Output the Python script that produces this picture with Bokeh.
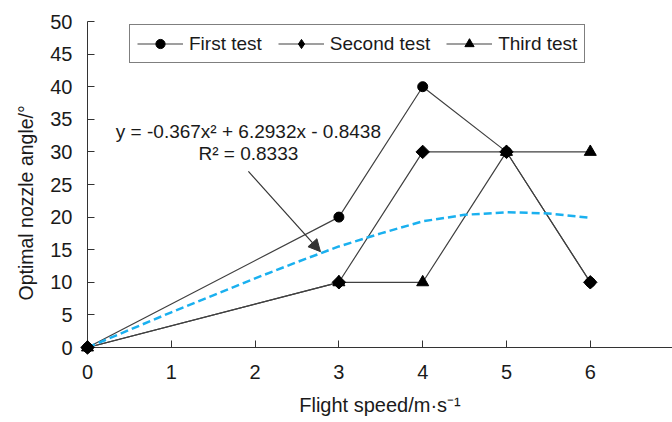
from bokeh.plotting import figure
from bokeh.models import ColumnDataSource, Legend, LegendItem, FixedTicker, Label, Arrow, NormalHead, Range1d, Title
from bokeh.embed import file_html
from bokeh.resources import INLINE
import math

# Data
speed = [0, 3, 4, 5, 6]
first_test = [0, 20, 40, 30, 10]
second_test = [0, 10, 30, 30, 10]
third_test = [0, 10, 10, 30, 30]

# Trend line
trend_x = [0, 0.5, 1, 1.5, 2, 2.5, 3, 3.5, 4, 4.5, 5, 5.5, 6]
trend_y = [0, 2.7, 5.4, 8.0, 10.6, 13.1, 15.5, 17.5, 19.35, 20.35, 20.75, 20.55, 19.9]

x_ticks = [0, 1, 2, 3, 4, 5, 6, 7]
y_ticks = [0, 5, 10, 15, 20, 25, 30, 35, 40, 45, 50]

x_title = "Flight speed/m·s⁻¹"
y_title = "Optimal nozzle angle/°"
eq_text = "y = -0.367x² + 6.2932x - 0.8438"
r2_text = "R² = 0.8333"

FONT = "Liberation Sans"
TXT = "#1a1a1a"
AX = "#333333"

p = figure(width=672, height=422, output_backend="svg", toolbar_location=None,
           x_range=Range1d(0, 6.981), y_range=Range1d(0, 50),
           min_border_left=87, min_border_right=0, min_border_top=21, min_border_bottom=75)
p.outline_line_color = None
p.xgrid.grid_line_color = None
p.ygrid.grid_line_color = None
p.background_fill_color = "white"

for ax in (p.xaxis[0], p.yaxis[0]):
    ax.axis_line_color = AX
    ax.major_tick_line_color = AX
    ax.major_tick_in = 7
    ax.major_tick_out = 0
    ax.minor_tick_line_color = None
    ax.major_label_text_font = FONT
    ax.major_label_text_font_size = "20px"
    ax.major_label_text_color = TXT

p.xaxis.ticker = FixedTicker(ticks=x_ticks)
p.yaxis.ticker = FixedTicker(ticks=y_ticks)
p.xaxis.major_label_standoff = 17
p.yaxis.major_label_standoff = 15

p.xaxis.axis_label = x_title
p.xaxis.axis_label_text_font = FONT
p.xaxis.axis_label_text_font_size = "20px"
p.xaxis.axis_label_text_font_style = "normal"
p.xaxis.axis_label_text_color = TXT
p.xaxis.axis_label_standoff = 12

# y title as a side title so it can sit a little below the frame centre, as in the reference
p.add_layout(Title(text=y_title, align="left", offset=47, standoff=22,
                   text_font=FONT, text_font_size="19.5px", text_font_style="normal",
                   text_color=TXT), "left")

src = ColumnDataSource(dict(x=speed, a=first_test, b=second_test, c=third_test))

LC = "#404040"
l1 = p.line("x", "a", source=src, line_color=LC, line_width=1.2)
l2 = p.line("x", "b", source=src, line_color=LC, line_width=1.2)
l3 = p.line("x", "c", source=src, line_color=LC, line_width=1.2)

m1 = p.scatter("x", "a", source=src, marker="circle", size=10, fill_color="black", line_color="black")
m2 = p.scatter("x", "b", source=src, marker="square", angle=math.pi / 4, size=9.5, fill_color="black", line_color="black")
m3 = p.scatter("x", "c", source=src, marker="triangle", size=12, fill_color="black", line_color="black")
for m in (m1, m2, m3):
    m.level = "overlay"

# legend-only diamond (legend glyphs ignore marker angle); its single point is NaN, so nothing is drawn in the plot
leg_src = ColumnDataSource(dict(x=[float("nan")], y=[float("nan")]))
m2_leg = p.scatter("x", "y", source=leg_src, marker="diamond", fill_color="black", line_color="black")

p.line(trend_x, trend_y, line_color="#1ab0ef", line_width=2.5, line_dash="8 4")

p.add_layout(Label(x=1.92, y=33.2, text=eq_text, text_align="center", text_baseline="middle",
                   text_font=FONT, text_font_size="19px", text_color=TXT))
p.add_layout(Label(x=1.92, y=29.8, text=r2_text, text_align="center", text_baseline="middle",
                   text_font=FONT, text_font_size="19px", text_color=TXT))

p.add_layout(Arrow(x_start=1.92, y_start=27.0, x_end=2.78, y_end=14.7,
                   line_color=AX, line_width=1.2,
                   end=NormalHead(size=12, fill_color=AX, line_color=AX)))

legend = Legend(items=[LegendItem(label="First test", renderers=[l1, m1]),
                       LegendItem(label="Second test", renderers=[l2, m2_leg]),
                       LegendItem(label="Third test", renderers=[l3, m3])],
                orientation="horizontal", location=(42, 284),
                glyph_width=46, glyph_height=23, label_standoff=6, spacing=16,
                padding=7, margin=0,
                label_text_font=FONT, label_text_font_size="19px", label_text_color=TXT,
                border_line_color="black", border_line_width=1,
                background_fill_color="white", background_fill_alpha=1)
p.add_layout(legend, "center")

open("out.html", "w").write(file_html(p, INLINE))
